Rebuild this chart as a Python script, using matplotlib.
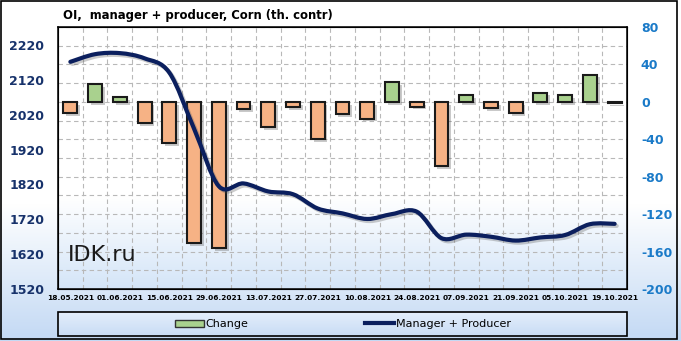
import matplotlib
matplotlib.use("Agg")
import matplotlib.pyplot as plt
import matplotlib.patheffects as pe
from matplotlib.path import Path
from matplotlib.patches import PathPatch, Rectangle
from matplotlib.lines import Line2D
from matplotlib.colors import LinearSegmentedColormap
import numpy as np

plt.rcParams["axes.unicode_minus"] = False

dates = ["18.05.2021", "25.05.2021", "01.06.2021", "08.06.2021", "15.06.2021",
         "22.06.2021", "29.06.2021", "06.07.2021", "13.07.2021", "20.07.2021",
         "27.07.2021", "03.08.2021", "10.08.2021", "17.08.2021", "24.08.2021",
         "31.08.2021", "07.09.2021", "14.09.2021", "21.09.2021", "28.09.2021",
         "05.10.2021", "12.10.2021", "19.10.2021"]
change = [-12, 19, 5, -23, -44, -151, -156, -8, -27, -6, -40, -13, -18, 21,
          -5, -69, 7, -7, -12, 10, 7, 29, -1]
oi = [2172, 2194, 2197, 2182, 2141, 1980, 1815, 1823, 1800, 1792, 1751, 1737,
      1721, 1735, 1742, 1666, 1676, 1670, 1659, 1668, 1675, 1706, 1707]

navy = "#0b1f5e"
orange = "#f6b285"
green = "#a9d18e"

fig = plt.figure(figsize=(6.81, 3.41), dpi=100)

# figure background gradient
bg = fig.add_axes([0, 0, 1, 1], zorder=-10)
grad = np.linspace(0, 1, 256).reshape(-1, 1)
cm_bg = LinearSegmentedColormap.from_list("bg", [(0, "#c3d9f4"), (0.4, "#ffffff"), (1, "#ffffff")])
bg.imshow(grad, cmap=cm_bg, aspect="auto", origin="lower", extent=[0, 1, 0, 1])
bg.set_xlim(0, 1)
bg.set_ylim(0, 1)
bg.axis("off")
bg.add_patch(Rectangle((0.001, 0.006), 0.993, 0.992, fill=False, lw=1.2,
                       edgecolor="black", transform=bg.transAxes))

# legend box
lx0, ly0 = 58 / 681, 1 - 336 / 341
lw, lh = (627 - 58) / 681, 24 / 341
cm_leg = LinearSegmentedColormap.from_list("lg", [(0, "#c8dcf5"), (1, "#e4eefb")])
bg.imshow(grad, cmap=cm_leg, aspect="auto", origin="lower",
          extent=[lx0, lx0 + lw, ly0, ly0 + lh], zorder=1)
bg.add_patch(Rectangle((lx0, ly0), lw, lh, fill=False, lw=1.2, edgecolor="black", zorder=2))

ax = fig.add_axes([58 / 681, 1 - 289 / 341, (627 - 58) / 681, (289 - 27) / 341])
ax.patch.set_alpha(0)
cm_ax = LinearSegmentedColormap.from_list("ax", [(0, "#d4e5f8"), (0.35, "#ffffff"), (1, "#ffffff")])
ax.imshow(grad, cmap=cm_ax, aspect="auto", origin="lower", extent=[0, 1, 0, 1],
          transform=ax.transAxes, zorder=0)

x = np.arange(len(dates))
colors = [green if v > 0 else orange for v in change]
bars = ax.bar(x, change, width=0.56, color=colors, edgecolor="#1a1a1a", lw=1.5, zorder=3)
for b in bars:
    b.set_path_effects([pe.withSimplePatchShadow(offset=(2, -2), shadow_rgbFace="#666666", alpha=0.35)])

ax2 = ax.twinx()

ax.set_xlim(-0.5, len(dates) - 0.5)
ax.set_ylim(-200, 80)
ax.set_yticks(np.arange(-200, 81, 40))
ax.set_yticks(np.arange(-200, 81, 20), minor=True)
ax.set_xticks(x[::2])
ax.set_xticklabels(dates[::2])
ax.set_xticks(np.arange(-0.5, len(dates), 1), minor=True)
ax.yaxis.tick_right()
ax.yaxis.grid(which="both", color="#b8b8b8", ls=(0, (4, 3)), lw=0.8)
ax.xaxis.grid(which="minor", color="#b8b8b8", ls=(0, (4, 3)), lw=0.8)
ax.set_axisbelow(True)
ax.tick_params(axis="y", which="both", length=0, pad=10, labelsize=9, labelcolor="#1a7ac8")
ax.tick_params(axis="x", which="both", length=0, pad=4, labelsize=5.3)
for t in ax.get_yticklabels():
    t.set_fontweight("bold")
for t in ax.get_xticklabels():
    t.set_fontweight("bold")
for s in ax.spines.values():
    s.set_linewidth(1.1)

ax2.set_ylim(1520, 2272)
ax2.set_yticks(np.arange(1520, 2221, 100))
ax2.yaxis.tick_left()
ax2.tick_params(axis="y", length=0, pad=10, labelsize=9, labelcolor="#17326b")
for t in ax2.get_yticklabels():
    t.set_fontweight("bold")

# smooth curve through the data points (Catmull-Rom as Bezier)
pts = np.column_stack([x, oi]).astype(float)
ext = np.vstack([pts[0], pts, pts[-1]])
verts = [tuple(pts[0])]
codes = [Path.MOVETO]
for i in range(1, len(ext) - 2):
    p0, p1, p2, p3 = ext[i - 1], ext[i], ext[i + 1], ext[i + 2]
    verts += [tuple(p1 + (p2 - p0) / 6), tuple(p2 - (p3 - p1) / 6), tuple(p2)]
    codes += [Path.CURVE4] * 3
curve = PathPatch(Path(verts, codes), fill=False, edgecolor=navy, lw=3.0,
                  capstyle="round", joinstyle="round", zorder=4)
curve.set_path_effects([pe.SimpleLineShadow(offset=(1.5, -1.5), shadow_color="#555555", alpha=0.3),
                        pe.Normal()])
ax2.add_patch(curve)

ax.text(0.018, 0.105, "IDK.ru", transform=ax.transAxes, fontsize=16, color="#1a1a1a", zorder=5)

fig.text(63 / 681, 1 - 15 / 341, "OI,  manager + producer, Corn (th. contr)",
         fontsize=8.4, fontweight="bold", va="center", ha="left")

handles = [Rectangle((0, 0), 1, 1, facecolor=green, edgecolor="#333333", lw=1),
           Line2D([0], [0], color=navy, lw=3)]
fig.legend(handles, ["Change", "Manager + Producer"], loc="center",
           bbox_to_anchor=(343 / 681, 1 - 324 / 341), ncol=2, frameon=False,
           fontsize=8, handlelength=2.6, handletextpad=0.15, columnspacing=10.5,
           handleheight=0.6)

fig.savefig("out.png", dpi=100)
